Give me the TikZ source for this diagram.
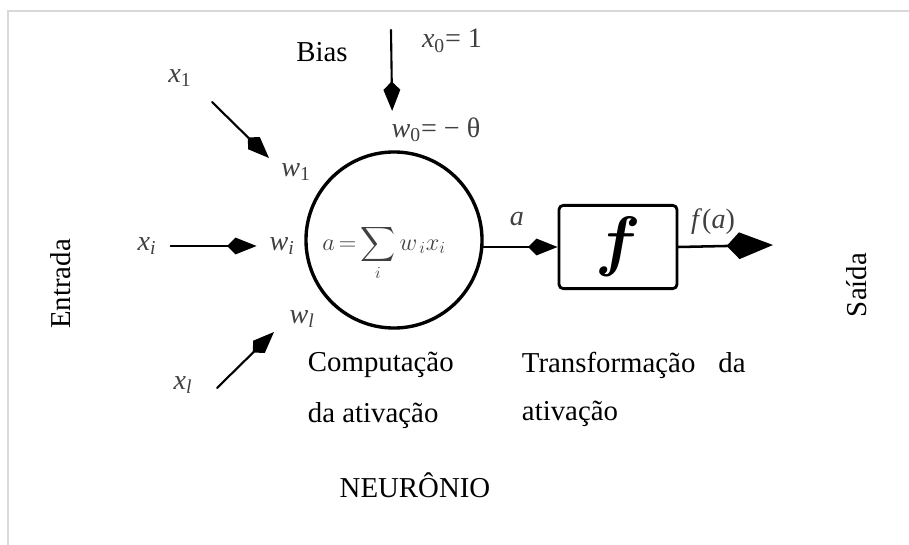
\documentclass[tikz,border=0pt]{standalone}
\usepackage{amsmath}
\usepackage{fontspec}
\setmainfont{Liberation Serif}
\usetikzlibrary{arrows.meta}

\begin{document}
\begin{tikzpicture}[x=0.025cm,y=-0.025cm,line cap=round]
  % Styles and colors
  \tikzset{
    txt/.style={font=\fontsize{20.5}{24}\selectfont},
    sym/.style={font=\fontsize{20}{22}\selectfont,text=symgray,inner sep=2pt},
    arr/.style={line width=1.5pt,-{Kite[length=21pt,width=12pt,inset=6pt]}},
    bigarr/.style={line width=1.8pt,-{Kite[length=33pt,width=19pt,inset=9pt]}},
    neuron/.style={circle,draw,line width=2.4pt,minimum size=4.4cm,inner sep=0pt},
    transf/.style={rectangle,draw,line width=2pt,rounded corners=3pt,
      minimum width=2.95cm,minimum height=2.08cm}
  }
  \colorlet{symgray}{black!75}
  \colorlet{framegray}{black!15}

  \useasboundingbox (0,0) rectangle (909,545);
  % Page frame
  \draw[framegray,line width=1.4pt,line cap=butt] (8,545) -- (8,11) -- (909,11);

  % Neuron and activation block
  \node[neuron] (cell) at (394,240) {};
  \node[sym,font=\fontsize{17.5}{20}\selectfont] (sum) at (384,253) {$a\,{=}\displaystyle\sum_{i} w_{\,i} x_{i}$};
  \node[transf] (act) at (618,247) {};
  \node[font=\fontsize{20}{20}\selectfont] (f) at (act) {\scalebox{2.3}{$\boldsymbol{f}$}};

  % Inputs
  \node[sym] (xone) at (180,78) {\textit{x}\textsubscript{1}};
  \node[sym] (wone) at (296,172) {\textit{w}\textsubscript{1}};
  \node[sym] (xi) at (147,246) {\textit{x}\textsubscript{\textit{i}}};
  \node[sym] (wi) at (282,246) {\textit{w}\textsubscript{\textit{i}}};
  \node[sym] (xl) at (183,385) {\textit{x}\textsubscript{\textit{l}}};
  \node[sym] (wl) at (302,319) {\textit{w}\textsubscript{\textit{l}}};
  \coordinate (xonetail) at (212,102);
  \coordinate (xonetip) at (269,158);
  \coordinate (xltail) at (217,388);
  \coordinate (xltip) at (274,332);

  % Bias
  \node[txt] (bias) at (322,52) {Bias};
  \node[sym] (xzero) at (452,41) {\textit{x}\textsubscript{0}= 1};
  \node[sym] (wzero) at (436,130) {\textit{w}\textsubscript{0}= − θ};
  \coordinate (biastop) at (391,30);

  % Output
  \node[sym] (a) at (517,219) {\textit{a}};
  \node[sym] (fa) at (713,222) {\textit{f}(\textit{a})};
  \coordinate (outtip) at (773,245);

  % Connectors
  \draw[arr] (xonetail) -- (xonetip);
  \draw[arr,shorten <=8pt,shorten >=7pt] (xi) -- (wi);
  \draw[arr] (xltail) -- (xltip);
  \draw[arr,shorten >=28pt] (biastop) -- (cell);
  \draw[arr] (cell.east |- act.west) -- (act.west);
  \draw[bigarr] (act.east) -- (outtip);

  % Side and bottom labels
  \node[txt,rotate=90] (entrada) at (61,284) {Entrada};
  \node[txt,rotate=90] (saida) at (857,285) {Saída};
  \node[txt,anchor=west] (comp) at (303,365) {Computação};
  \node[txt,anchor=west] (compb) at (303,416) {da ativação};
  \node[txt,anchor=west] (transf) at (517,365) {Transformação\hspace{0.55em} da};
  \node[txt,anchor=west] (transfb) at (517,414) {ativação};
  \node[txt] (neuronio) at (415,485) {NEURÔNIO};
\end{tikzpicture}
\end{document}
